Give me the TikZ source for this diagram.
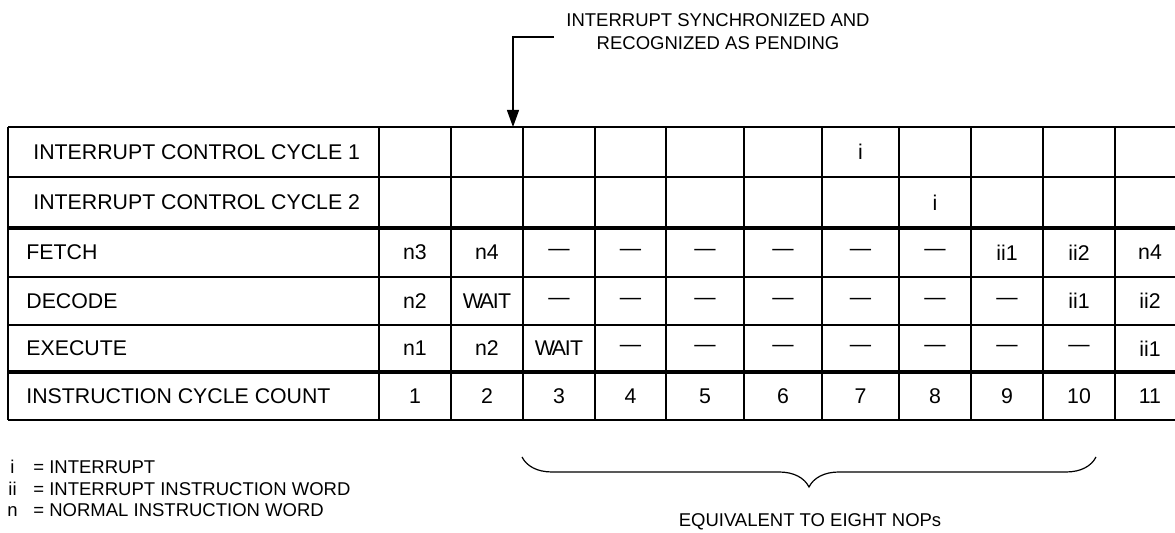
\documentclass[tikz,border=0pt]{standalone}
\usepackage{fontspec}
\setmainfont{Liberation Sans}
\usetikzlibrary{arrows.meta,decorations.pathreplacing}

\newcommand{\waittxt}{W\kern-1.6pt A\kern-0.6pt I\kern-0.3pt T}

\begin{document}
\begin{tikzpicture}[x=0.5pt, y=-0.5pt,
    txt/.style={font=\fontsize{10.65}{12}\selectfont, inner sep=0pt},
    small txt/.style={font=\fontsize{9.25}{11.5}\selectfont, inner sep=0pt},
    rowname/.style={txt, anchor=west},
    cell/.style={txt, anchor=center},
    keytext/.style={small txt, anchor=base west},
    thin rule/.style={line width=0.6pt},
    thick rule/.style={line width=2.2pt}]

    \useasboundingbox (0,0) rectangle (1175,533);

    % table rules
    \foreach \x in {8,379,451,523,595,666,744,822,899,971,1043,1115}
        \draw[thin rule] (\x,127) -- (\x,420);
    \foreach \y in {127,177,277,325,420}
        \draw[thin rule] (8,\y) -- (1175,\y);
    \foreach \y in {228,372}
        \draw[thick rule] (8,\y) -- (1175,\y);

    % row names
    \node[rowname] (icc1) at (33,152) {INTERRUPT CONTROL CYCLE 1};
    \node[rowname] (icc2) at (33,202.5) {INTERRUPT CONTROL CYCLE 2};
    \node[rowname] (fetch) at (26,252.5) {FETCH};
    \node[rowname] (decode) at (26,301) {DECODE};
    \node[rowname] (execute) at (26,348.5) {EXECUTE};
    \node[rowname] (count) at (26,396) {INSTRUCTION CYCLE COUNT};

    \foreach \cx [count=\i] in {415,487,559,630.5,705,783,860.5,935,1007,1079,1150}
        \coordinate (c\i) at (\cx,0);

    \node[cell] (icc1-7) at (c7 |- icc1) {i};
    \node[cell] (icc2-8) at (c8 |- icc2) {i};

    \foreach \t [count=\i] in {n3,n4,\textemdash,\textemdash,\textemdash,\textemdash,\textemdash,\textemdash,ii1,ii2,n4}
        \node[cell] (fetch-\i) at (c\i |- fetch) {\t};
    \foreach \t [count=\i] in {n2,\waittxt,\textemdash,\textemdash,\textemdash,\textemdash,\textemdash,\textemdash,\textemdash,ii1,ii2}
        \node[cell] (decode-\i) at (c\i |- decode) {\t};
    \foreach \t [count=\i] in {n1,n2,\waittxt,\textemdash,\textemdash,\textemdash,\textemdash,\textemdash,\textemdash,\textemdash,ii1}
        \node[cell] (execute-\i) at (c\i |- execute) {\t};
    \foreach \i in {1,...,11}
        \node[cell] (count-\i) at (c\i |- count) {\i};

    % pending note
    \node[small txt, align=center] (note) at (718,32) {INTERRUPT SYNCHRONIZED AND\\RECOGNIZED AS PENDING};
    \coordinate (lead) at (554,37);
    \coordinate (pending) at (513,127);
    \draw[thin rule, -{Triangle[length=8.5pt, width=6pt]}] (lead) -| (pending);

    % brace
    \coordinate (brace-l) at (522,457);
    \coordinate (brace-r) at (1096,457);
    \draw[thin rule, decorate, decoration={brace, mirror, amplitude=15pt}] (brace-l) -- (brace-r);
    \node[small txt] (nops) at (810,522) {EQUIVALENT TO EIGHT NOPs};

    % key
    \node[keytext] (key-i) at (10,474) {i};
    \node[keytext] (key-i-txt) at (33,474) {= INTERRUPT};
    \node[keytext] (key-ii) at (8,495.5) {ii};
    \node[keytext] (key-ii-txt) at (33,495.5) {= INTERRUPT INSTRUCTION WORD};
    \node[keytext] (key-n) at (7,517) {n};
    \node[keytext] (key-n-txt) at (33,517) {= NORMAL INSTRUCTION WORD};

\end{tikzpicture}
\end{document}
